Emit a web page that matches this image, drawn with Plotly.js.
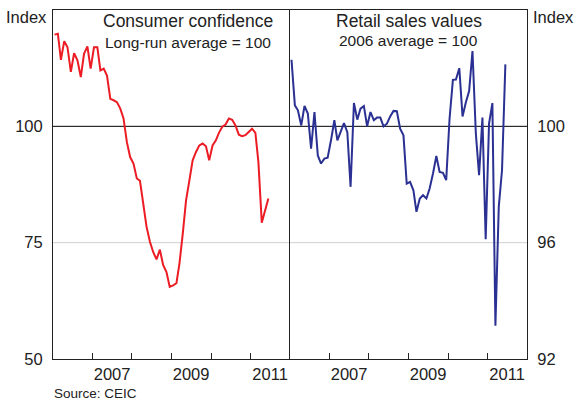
<!DOCTYPE html>
<html>
<head>
<meta charset="utf-8">
<script src="https://cdn.plot.ly/plotly-3.0.1.min.js"></script>
<style>html,body{margin:0;padding:0;background:#fff;}#chart{width:576px;height:401px;}</style>
</head>
<body>
<div id="chart"></div>
<script>
// Monthly observations, Jan 2006 – Jun 2011
const startYear = 2006;
const nMonths = 66;
const months = [];
for (let i = 0; i < nMonths; i++) {
  const y = startYear + Math.floor(i / 12);
  const m = (i % 12) + 1;
  months.push(y + '-' + (m < 10 ? '0' + m : m) + '-15');
}

// Consumer confidence (long-run average = 100)
const consumerConfidence = [
  119.7, 119.9, 114.3, 118.3, 117.0, 111.7, 115.7, 114.2, 110.6, 115.6, 117.2, 112.4,
  117.0, 117.0, 112.0, 112.4, 110.9, 105.9, 105.6, 105.2, 103.8, 101.7, 96.6, 93.4,
  92.0, 88.8, 88.3, 82.7, 78.4, 75.2, 73.0, 71.4, 73.5, 70.2, 68.7, 65.5,
  65.8, 66.3, 70.5, 77.0, 84.1, 88.4, 92.7, 94.5, 95.9, 96.3, 95.7, 92.7,
  95.9, 97.0, 98.6, 99.9, 100.4, 101.7, 101.4, 100.2, 98.2, 97.9, 98.1, 98.8,
  99.5, 98.6, 92.3, 79.3, 82.0, 84.5
];

// Retail sales values (2006 average = 100)
const retailSales = [
  102.29, 100.72, 100.55, 100.03, 100.70, 100.44, 99.23, 100.49, 99.00, 98.72, 98.89, 98.92,
  99.52, 100.21, 99.52, 99.80, 100.11, 99.80, 97.92, 100.80, 100.23, 100.61, 100.70, 100.00,
  100.49, 100.21, 100.30, 100.30, 100.00, 100.09, 100.34, 100.53, 100.52, 99.92, 99.69, 98.03,
  98.09, 97.80, 97.06, 97.52, 97.63, 97.52, 97.86, 98.38, 98.98, 98.43, 98.40, 98.15,
  100.26, 101.60, 101.61, 102.00, 100.34, 100.83, 101.21, 102.59, 99.75, 98.32, 100.30, 96.12,
  100.09, 100.80, 93.14, 97.23, 98.49, 102.13
];

const xTickVals = ['2007-07-01', '2009-07-01', '2011-07-01'];
const xTickText = ['2007', '2009', '2011'];
const yearBounds = ['2007-01-01', '2008-01-01', '2009-01-01', '2010-01-01', '2011-01-01'];
const leftTicks = [50, 75, 100];
const rightTicks = [92, 96, 100];
const gridLevel = 75;
const averageLevel = 100;

const FONT = 'Arial, "Liberation Sans", sans-serif';
const TXT = '#222';
const AX = '#222';

const xCommon = {
  type: 'date',
  range: ['2006-01-01', '2012-01-01'],
  tickmode: 'array', tickvals: xTickVals, ticktext: xTickText,
  ticks: '', showgrid: false, zeroline: false,
  showline: true, mirror: true, linecolor: AX, linewidth: 1,
  tickfont: {family: FONT, size: 16.5, color: TXT},
  minor: {tickmode: 'array', tickvals: yearBounds, ticks: 'inside', ticklen: 6, tickcolor: AX, tickwidth: 1, showgrid: false}
};

const traces = [
  {x: months, y: consumerConfidence, xaxis: 'x', yaxis: 'y', type: 'scatter', mode: 'lines',
   line: {color: '#ec1c24', width: 2}, hoverinfo: 'skip'},
  {x: months, y: retailSales, xaxis: 'x2', yaxis: 'y2', type: 'scatter', mode: 'lines',
   line: {color: '#2b3192', width: 2}, hoverinfo: 'skip'}
];

const layout = {
  width: 576, height: 401,
  margin: {l: 53, r: 49, t: 10, b: 42},
  paper_bgcolor: '#fff', plot_bgcolor: '#fff',
  showlegend: false,
  xaxis: Object.assign({}, xCommon, {domain: [0, 0.5], anchor: 'y'}),
  xaxis2: Object.assign({}, xCommon, {domain: [0.5, 1], anchor: 'y2'}),
  yaxis: {
    domain: [0, 1], anchor: 'x', range: [50, 125],
    tickmode: 'array', tickvals: leftTicks, ticks: '',
    showgrid: false, zeroline: false,
    showline: true, mirror: false, linecolor: AX, linewidth: 1,
    ticklabelstandoff: 6,
    tickfont: {family: FONT, size: 16.5, color: TXT}
  },
  yaxis2: {
    domain: [0, 1], anchor: 'x2', side: 'right', range: [92, 104],
    tickmode: 'array', tickvals: rightTicks, ticks: '',
    showgrid: false, zeroline: false,
    showline: true, mirror: true, linecolor: AX, linewidth: 1,
    ticklabelstandoff: 6,
    tickfont: {family: FONT, size: 16.5, color: TXT}
  },
  shapes: [
    {type: 'line', xref: 'paper', x0: 0, x1: 1, yref: 'y', y0: gridLevel, y1: gridLevel,
     line: {color: '#cfcfcf', width: 1}, layer: 'below'},
    {type: 'line', xref: 'paper', x0: 0, x1: 1, yref: 'y', y0: averageLevel, y1: averageLevel,
     line: {color: '#000', width: 1}, layer: 'below'}
  ],
  annotations: [
    {text: 'Index', xref: 'paper', yref: 'paper', x: 0, y: 1, xanchor: 'right', yanchor: 'middle',
     xshift: -4, yshift: -7, showarrow: false, font: {family: FONT, size: 16.5, color: TXT}},
    {text: 'Index', xref: 'paper', yref: 'paper', x: 1, y: 1, xanchor: 'left', yanchor: 'middle',
     xshift: 4, yshift: -7, showarrow: false, font: {family: FONT, size: 16.5, color: TXT}},
    {text: 'Consumer confidence', xref: 'paper', yref: 'paper', x: 0.285, y: 1, xanchor: 'center', yanchor: 'middle',
     yshift: -11, showarrow: false, font: {family: FONT, size: 17.5, color: TXT}},
    {text: 'Long-run average = 100', xref: 'paper', yref: 'paper', x: 0.285, y: 1, xanchor: 'center', yanchor: 'middle',
     yshift: -32, showarrow: false, font: {family: FONT, size: 15.5, color: TXT}},
    {text: 'Retail sales values', xref: 'paper', yref: 'paper', x: 0.75, y: 1, xanchor: 'center', yanchor: 'middle',
     yshift: -11, showarrow: false, font: {family: FONT, size: 17.5, color: TXT}},
    {text: '2006 average = 100', xref: 'paper', yref: 'paper', x: 0.75, y: 1, xanchor: 'center', yanchor: 'middle',
     yshift: -30, showarrow: false, font: {family: FONT, size: 15.5, color: TXT}},
    {text: 'Source: CEIC', xref: 'paper', yref: 'paper', x: 0, y: 0, xanchor: 'left', yanchor: 'middle',
     xshift: -1, yshift: -34, showarrow: false, font: {family: FONT, size: 13.5, color: TXT}}
  ]
};

Plotly.newPlot('chart', traces, layout, {displayModeBar: false, staticPlot: true});
</script>
</body>
</html>
